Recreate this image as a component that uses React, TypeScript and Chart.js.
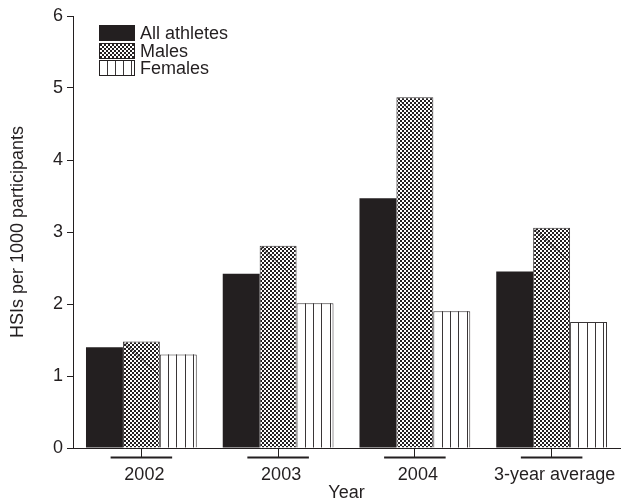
import { useEffect, useRef } from "react";
import { Chart, registerables } from "chart.js";

Chart.register(...registerables);

// HSIs per 1000 participants, by year and sex
const years = ["2002", "2003", "2004", "3-year average"];
const allAthletes = [1.4, 2.42, 3.47, 2.45];
const males = [1.48, 2.81, 4.87, 3.06];
const females = [1.3, 2.01, 1.9, 1.75];
const seriesNames = ["All athletes", "Males", "Females"];
const yMin = 0;
const yMax = 6;
const yStep = 1;

const INK = "#231f20";
const FONT = "'Liberation Sans', Arial, Helvetica, sans-serif";
const FONT_SIZE = 18;

function makeCheckPattern(): CanvasPattern | string {
  const tile = document.createElement("canvas");
  tile.width = 4;
  tile.height = 4;
  const c = tile.getContext("2d");
  if (!c) return "#777";
  c.fillStyle = "#ffffff";
  c.fillRect(0, 0, 4, 4);
  c.fillStyle = INK;
  c.fillRect(0, 0, 2, 2);
  c.fillRect(2, 2, 2, 2);
  const p = c.createPattern(tile, "repeat");
  return p || "#777";
}

// vertical stripes inside a white box (females)
function drawStripes(ctx: CanvasRenderingContext2D, left: number, top: number, w: number, bottom: number) {
  const gap = w / 4.45;
  ctx.save();
  ctx.strokeStyle = "#3a3637";
  ctx.lineWidth = 1;
  ctx.beginPath();
  for (let k = 1; k <= 4; k++) {
    const x = Math.round(left + gap * k) + 0.5;
    if (x >= left + w - 1) break;
    ctx.moveTo(x, top);
    ctx.lineTo(x, bottom);
  }
  ctx.stroke();
  ctx.restore();
}

// faint diagonal stroke that runs from the top-left corner of the checked bars
function drawDiagonal(ctx: CanvasRenderingContext2D, left: number, top: number, w: number, bottom: number) {
  const len = Math.min(w, bottom - top);
  ctx.save();
  ctx.strokeStyle = "rgba(35,31,32,0.6)";
  ctx.lineWidth = 1;
  ctx.beginPath();
  ctx.moveTo(left + 1, top + 1);
  ctx.lineTo(left + len - 1, top + len * 0.92);
  ctx.stroke();
  ctx.restore();
}

const barDecor = {
  id: "barDecor",
  afterDatasetsDraw(chart: any) {
    const ctx = chart.ctx as CanvasRenderingContext2D;
    chart.data.datasets.forEach((ds: any, di: number) => {
      const meta = chart.getDatasetMeta(di);
      meta.data.forEach((bar: any) => {
        const { x, y, base, width } = bar.getProps(["x", "y", "base", "width"], true);
        const left = x - width / 2;
        if (ds.label === "Females") drawStripes(ctx, left, y, width, base);
        if (ds.label === "Males") drawDiagonal(ctx, left, y, width, base);
      });
    });
  },
};

// horizontal bar under each category tick on the x axis
const axisBrackets = {
  id: "axisBrackets",
  afterDraw(chart: any) {
    const ctx = chart.ctx as CanvasRenderingContext2D;
    const xs = chart.scales.x;
    const half = (xs.width / years.length) * 0.225;
    const yLine = xs.top + 9.5;
    ctx.save();
    ctx.strokeStyle = INK;
    ctx.lineWidth = 2;
    ctx.beginPath();
    years.forEach((_, i) => {
      const cx = xs.getPixelForTick(i);
      ctx.moveTo(cx - half, yLine);
      ctx.lineTo(cx + half, yLine);
    });
    ctx.stroke();
    ctx.restore();
  },
};

// stacked legend in the upper left of the plot area
const boxLegend = {
  id: "boxLegend",
  afterDraw(chart: any) {
    const ctx = chart.ctx as CanvasRenderingContext2D;
    const area = chart.chartArea;
    const x = area.left + 26;
    const y0 = area.top + 9;
    const w = 36;
    const h = 16;
    const step = 17.5;
    chart.data.datasets.forEach((ds: any, i: number) => {
      const y = Math.round(y0 + i * step);
      ctx.save();
      ctx.fillStyle = ds.backgroundColor;
      ctx.fillRect(x, y, w, h);
      if (ds.label === "Females") drawStripes(ctx, x, y, w, y + h);
      ctx.strokeStyle = INK;
      ctx.lineWidth = 1;
      ctx.strokeRect(x + 0.5, y + 0.5, w - 1, h - 1);
      ctx.fillStyle = INK;
      ctx.font = `${FONT_SIZE}px ${FONT}`;
      ctx.textBaseline = "middle";
      ctx.textAlign = "left";
      ctx.fillText(ds.label, x + w + 5, y + h / 2 + 1);
      ctx.restore();
    });
  },
};

export default function App() {
  const ref = useRef<HTMLCanvasElement | null>(null);

  useEffect(() => {
    document.body.style.margin = "0";
    const canvas = ref.current;
    if (!canvas) return;
    const check = makeCheckPattern();

    const chart = new Chart(canvas, {
      type: "bar",
      data: {
        labels: years,
        datasets: [
          {
            label: seriesNames[0],
            data: allAthletes,
            backgroundColor: INK,
            borderColor: INK,
            borderWidth: 0,
          },
          {
            label: seriesNames[1],
            data: males,
            backgroundColor: check as any,
            borderColor: "#3a3637",
            borderWidth: 1,
          },
          {
            label: seriesNames[2],
            data: females,
            backgroundColor: "#ffffff",
            borderColor: "#3a3637",
            borderWidth: 1,
          },
        ],
      },
      options: {
        responsive: false,
        animation: false,
        devicePixelRatio: 1,
        layout: { padding: { left: 1, top: 16, right: 2, bottom: 0 } },
        datasets: {
          bar: { categoryPercentage: 0.81, barPercentage: 1 },
        },
        plugins: {
          legend: { display: false },
          tooltip: { enabled: false },
        },
        scales: {
          x: {
            afterFit: (s: any) => {
              s.height = 54;
            },
            grid: {
              display: true,
              drawOnChartArea: false,
              offset: false,
              tickLength: 9,
              color: INK,
              lineWidth: 1,
            },
            border: { display: true, color: INK, width: 1 },
            ticks: {
              color: INK,
              font: { family: FONT, size: FONT_SIZE },
              padding: 7,
              labelOffset: 3,
              maxRotation: 0,
              autoSkip: false,
            },
            title: {
              display: true,
              text: "Year",
              color: INK,
              font: { family: FONT, size: FONT_SIZE },
              padding: { top: 0, bottom: -2 },
            },
          },
          y: {
            min: yMin,
            max: yMax,
            afterFit: (s: any) => {
              s.width = 72;
            },
            grid: {
              display: true,
              drawOnChartArea: false,
              tickLength: 6,
              color: INK,
              lineWidth: 1,
            },
            border: { display: true, color: INK, width: 1 },
            ticks: {
              stepSize: yStep,
              color: INK,
              font: { family: FONT, size: FONT_SIZE },
              padding: 4,
            },
            title: {
              display: true,
              text: "HSIs per 1000 participants",
              color: INK,
              font: { family: FONT, size: FONT_SIZE },
              padding: { top: 6, bottom: 0 },
            },
          },
        },
      },
      plugins: [barDecor, axisBrackets, boxLegend],
    });

    return () => chart.destroy();
  }, []);

  return (
    <div style={{ width: 622, height: 502 }}>
      <canvas ref={ref} width={622} height={502} style={{ display: "block" }} />
    </div>
  );
}
